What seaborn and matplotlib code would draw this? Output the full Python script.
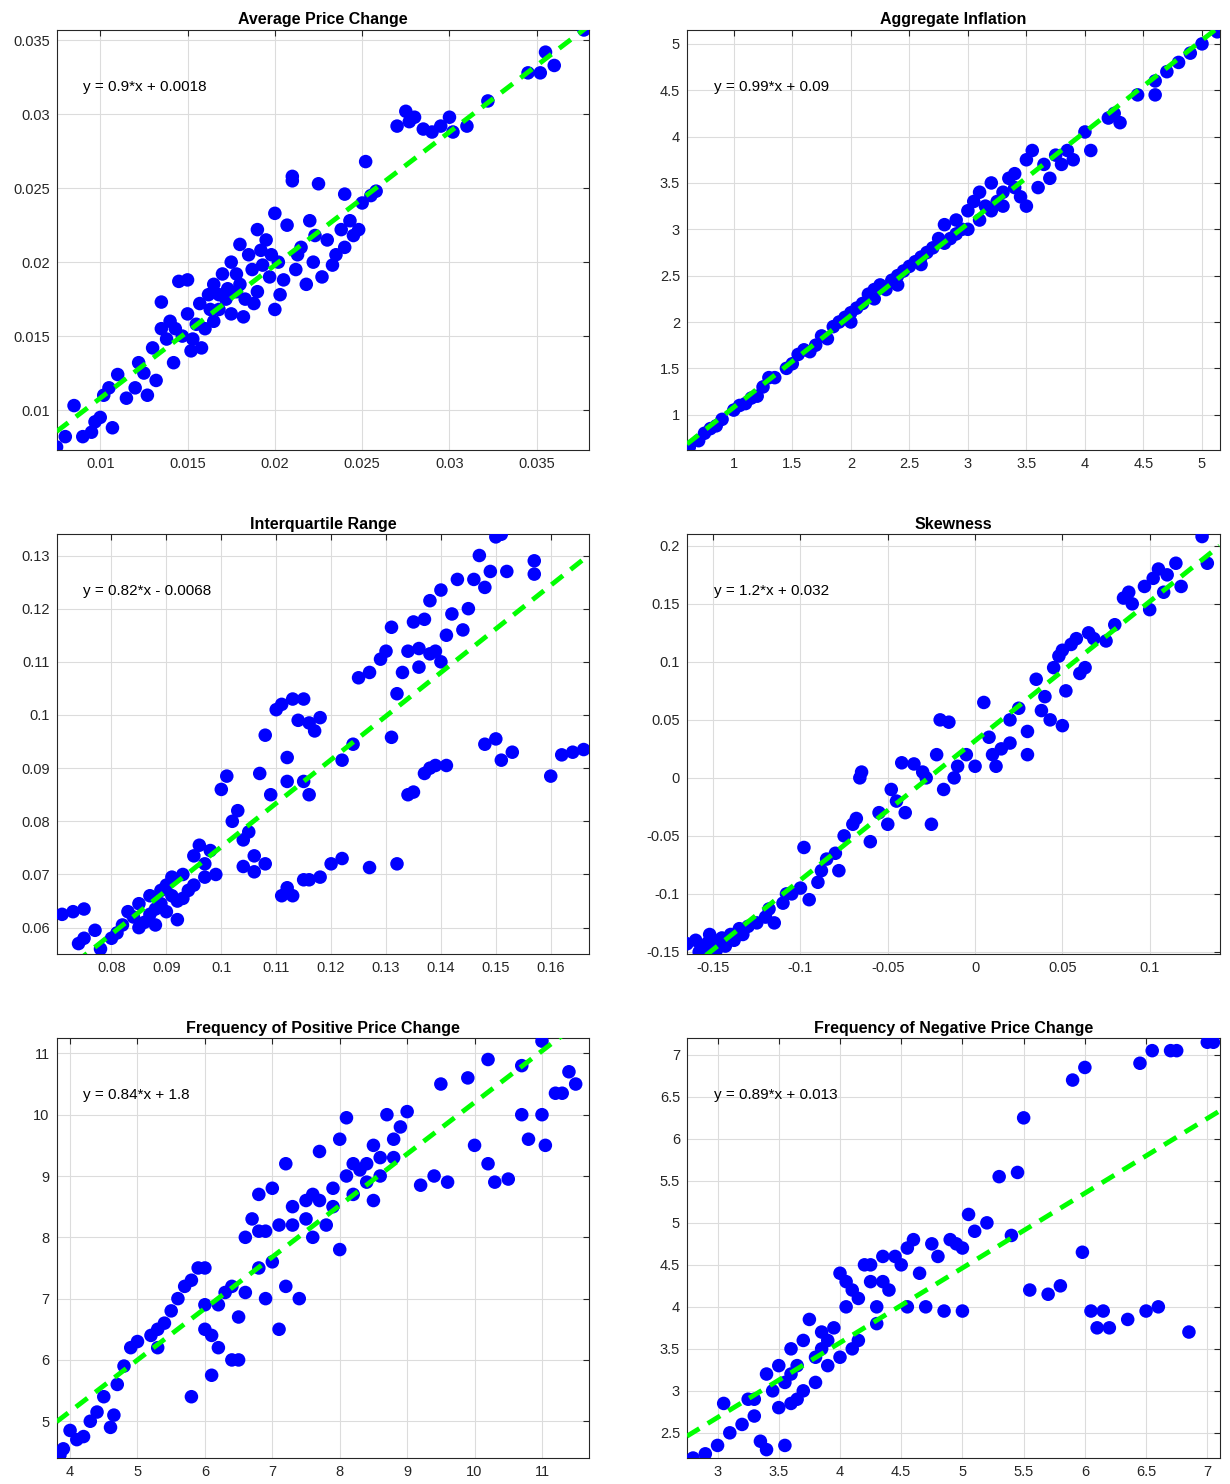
import matplotlib
matplotlib.use("Agg")
import matplotlib.pyplot as plt
import seaborn as sns
import numpy as np
import pandas as pd

sns.set_style("whitegrid")
plt.rcParams['font.family'] = ['Liberation Sans', 'DejaVu Sans']

titles = ["Average Price Change", "Aggregate Inflation", "Interquartile Range",
          "Skewness", "Frequency of Positive Price Change", "Frequency of Negative Price Change"]
slopes = [0.9, 0.99, 0.82, 1.2, 0.84, 0.89]
intercepts = [0.0018, 0.09, -0.0068, 0.032, 1.8, 0.013]
eq_labels = ["y = 0.9*x + 0.0018", "y = 0.99*x + 0.09", "y = 0.82*x - 0.0068",
             "y = 1.2*x + 0.032", "y = 0.84*x + 1.8", "y = 0.89*x + 0.013"]

p1 = [(0.0075,0.0075),(0.008,0.0082),(0.0085,0.0103),(0.009,0.0082),(0.0095,0.0085),(0.0097,0.0092),(0.01,0.0095),(0.0102,0.011),(0.0105,0.0115),(0.0107,0.0088),(0.011,0.0124),(0.0115,0.0108),(0.012,0.0115),(0.0122,0.0132),(0.0125,0.0125),(0.0127,0.011),(0.013,0.0142),(0.0132,0.012),(0.0135,0.0155),(0.0135,0.0173),(0.0138,0.0148),(0.014,0.016),(0.0142,0.0132),(0.0145,0.0187),(0.0147,0.015),(0.015,0.0188),(0.015,0.0165),(0.0152,0.014),(0.0155,0.0158),(0.0157,0.0172),(0.016,0.0155),(0.0162,0.0178),(0.0165,0.0185),(0.0165,0.016),(0.0168,0.0168),(0.017,0.0192),(0.0172,0.0175),(0.0175,0.02),(0.0175,0.0165),(0.0178,0.018),(0.018,0.0212),(0.018,0.0185),(0.0182,0.0163),(0.0185,0.0205),(0.0187,0.0195),(0.019,0.0222),(0.019,0.018),(0.0192,0.0208),(0.0195,0.0215),(0.0197,0.019),(0.02,0.0168),(0.02,0.0233),(0.0202,0.02),(0.0205,0.0188),(0.0207,0.0225),(0.021,0.0255),(0.021,0.0258),(0.0212,0.0195),(0.0215,0.021),(0.0218,0.0185),(0.022,0.0228),(0.0222,0.02),(0.0225,0.0253),(0.0227,0.019),(0.023,0.0215),(0.0235,0.0205),(0.0238,0.0222),(0.024,0.0246),(0.024,0.021),(0.0245,0.0218),(0.0248,0.0222),(0.025,0.024),(0.0252,0.0268),(0.0255,0.0245),(0.0258,0.0248),(0.027,0.0292),(0.0275,0.0302),(0.0277,0.0295),(0.028,0.0298),(0.0285,0.029),(0.029,0.0288),(0.0295,0.0292),(0.03,0.0298),(0.0302,0.0288),(0.031,0.0292),(0.0322,0.0309),(0.0345,0.0328),(0.0352,0.0328),(0.0355,0.0342),(0.036,0.0333),(0.0377,0.0357),
      (0.0143,0.0155),(0.0153,0.0148),(0.0163,0.0168),(0.0173,0.0182),(0.0183,0.0175),(0.0193,0.0198),(0.0203,0.0178),(0.0213,0.0205),(0.0223,0.0218),(0.0233,0.0198),(0.0243,0.0228),(0.0168,0.0178),(0.0178,0.0192),(0.0158,0.0142),(0.0188,0.0172),(0.0198,0.0205)]
p2 = [(0.62,0.65),(0.7,0.72),(0.75,0.8),(0.8,0.85),(0.85,0.88),(0.9,0.95),(1.0,1.05),(1.05,1.1),(1.1,1.12),(1.2,1.2),(1.25,1.3),(1.3,1.4),(1.45,1.5),(1.5,1.55),(1.55,1.65),(1.6,1.7),(1.7,1.75),(1.75,1.85),(1.8,1.82),(1.85,1.95),(1.9,2.0),(1.95,2.05),(2.0,2.1),(2.05,2.15),(2.1,2.2),(2.15,2.3),(2.2,2.25),(2.25,2.4),(2.3,2.35),(2.35,2.45),(2.4,2.5),(2.45,2.55),(2.5,2.6),(2.55,2.65),(2.6,2.7),(2.65,2.75),(2.7,2.8),(2.75,2.9),(2.8,3.05),(2.85,2.9),(2.9,3.1),(2.95,3.0),(3.0,3.2),(3.05,3.3),(3.1,3.4),(3.1,3.1),(3.15,3.25),(3.2,3.5),(3.25,3.3),(3.3,3.4),(3.35,3.55),(3.4,3.6),(3.45,3.35),(3.5,3.75),(3.5,3.25),(3.55,3.85),(3.6,3.45),(3.65,3.7),(3.7,3.55),(3.75,3.8),(3.8,3.7),(3.85,3.85),(3.9,3.75),(4.0,4.05),(4.05,3.85),(4.2,4.2),(4.25,4.25),(4.3,4.15),(4.45,4.45),(4.6,4.45),(4.6,4.6),(4.7,4.7),(4.8,4.8),(4.9,4.9),(5.0,5.0),(5.13,5.13),
      (1.15,1.18),(1.35,1.4),(1.65,1.68),(2.0,2.0),(2.2,2.35),(2.4,2.4),(2.6,2.62),(2.8,2.85),(3.0,3.0),(3.2,3.2),(3.4,3.45),(2.9,2.95),(3.3,3.25)]
p3 = [(0.071,0.0625),(0.073,0.063),(0.075,0.0635),(0.074,0.057),(0.075,0.058),(0.077,0.0595),(0.078,0.056),(0.08,0.058),(0.081,0.059),(0.082,0.0605),(0.083,0.063),(0.084,0.062),(0.085,0.0645),(0.086,0.061),(0.087,0.066),(0.088,0.0635),(0.089,0.067),(0.09,0.068),(0.09,0.063),(0.091,0.0695),(0.092,0.065),(0.093,0.07),(0.094,0.067),(0.095,0.0735),(0.096,0.0755),(0.097,0.072),(0.098,0.0745),(0.099,0.07),(0.1,0.086),(0.101,0.0885),(0.102,0.08),(0.103,0.082),(0.104,0.0765),(0.105,0.078),(0.106,0.0735),(0.107,0.089),(0.108,0.0962),(0.109,0.085),(0.11,0.101),(0.111,0.102),(0.112,0.092),(0.113,0.103),(0.114,0.099),(0.115,0.103),(0.116,0.0985),(0.117,0.097),(0.118,0.0995),(0.115,0.0875),(0.116,0.085),(0.112,0.0875),(0.122,0.0915),(0.124,0.0945),(0.125,0.107),(0.127,0.108),(0.129,0.1105),(0.13,0.112),(0.131,0.1165),(0.132,0.104),(0.133,0.108),(0.134,0.112),(0.135,0.1175),(0.136,0.109),(0.137,0.118),(0.138,0.1215),(0.139,0.112),(0.14,0.1235),(0.141,0.115),(0.142,0.119),(0.143,0.1255),(0.144,0.116),(0.145,0.12),(0.146,0.1255),(0.147,0.13),(0.148,0.124),(0.149,0.127),(0.15,0.1335),(0.151,0.134),(0.152,0.127),(0.157,0.129),(0.157,0.1265),
      (0.104,0.0715),(0.106,0.0705),(0.108,0.072),(0.111,0.066),(0.112,0.0675),(0.113,0.066),(0.115,0.069),(0.116,0.069),(0.118,0.0695),(0.12,0.072),(0.122,0.073),(0.127,0.0713),(0.132,0.072),
      (0.131,0.0958),(0.134,0.085),(0.135,0.0855),(0.137,0.089),(0.138,0.09),(0.139,0.0905),(0.141,0.0905),(0.148,0.0945),(0.15,0.0955),(0.151,0.0915),(0.153,0.093),(0.16,0.0885),(0.162,0.0925),(0.164,0.093),(0.166,0.0935),
      (0.085,0.06),(0.087,0.0625),(0.089,0.0645),(0.091,0.066),(0.093,0.0655),(0.095,0.068),(0.097,0.0695),(0.092,0.0615),(0.088,0.0605),(0.138,0.1115),(0.14,0.11),(0.136,0.1125)]
p4 = [(-0.165,-0.143),(-0.16,-0.14),(-0.155,-0.145),(-0.152,-0.135),(-0.15,-0.14),(-0.148,-0.148),(-0.145,-0.138),(-0.14,-0.135),(-0.135,-0.13),(-0.13,-0.128),(-0.125,-0.125),(-0.12,-0.12),(-0.115,-0.125),(-0.11,-0.108),(-0.105,-0.1),(-0.1,-0.095),(-0.098,-0.06),(-0.095,-0.105),(-0.09,-0.09),(-0.085,-0.07),(-0.08,-0.065),(-0.078,-0.08),(-0.075,-0.05),(-0.07,-0.04),(-0.068,-0.035),(-0.066,0.0),(-0.065,0.005),(-0.06,-0.055),(-0.055,-0.03),(-0.05,-0.04),(-0.045,-0.02),(-0.042,0.013),(-0.04,-0.03),(-0.035,0.012),(-0.03,0.005),(-0.028,0.0),(-0.025,-0.04),(-0.022,0.02),(-0.02,0.05),(-0.015,0.048),(-0.012,0.0),(-0.01,0.01),(-0.005,0.02),(0.0,0.01),(0.005,0.065),(0.008,0.035),(0.01,0.02),(0.015,0.025),(0.02,0.05),(0.02,0.03),(0.025,0.06),(0.03,0.04),(0.035,0.085),(0.038,0.058),(0.04,0.07),(0.045,0.095),(0.048,0.105),(0.05,0.11),(0.052,0.075),(0.055,0.115),(0.058,0.12),(0.06,0.09),(0.065,0.125),(0.063,0.095),(0.068,0.12),(0.075,0.118),(0.08,0.132),(0.085,0.155),(0.088,0.16),(0.09,0.15),(0.097,0.165),(0.1,0.145),(0.102,0.172),(0.105,0.18),(0.108,0.16),(0.11,0.175),(0.115,0.185),(0.118,0.165),(0.13,0.208),(0.133,0.185),
      (-0.158,-0.15),(-0.153,-0.142),(-0.143,-0.145),(-0.138,-0.14),(-0.133,-0.135),(-0.118,-0.113),(-0.108,-0.1),(-0.088,-0.08),(-0.048,-0.01),(-0.018,-0.01),(0.012,0.01),(0.03,0.02),(0.043,0.05),(0.05,0.045)]
p5 = [(3.85,4.45),(3.9,4.55),(4.0,4.85),(4.1,4.7),(4.2,4.75),(4.3,5.0),(4.4,5.15),(4.5,5.4),(4.6,4.9),(4.65,5.1),(4.7,5.6),(4.8,5.9),(4.9,6.2),(5.0,6.3),(5.2,6.4),(5.3,6.5),(5.4,6.6),(5.5,6.8),(5.6,7.0),(5.7,7.2),(5.8,7.3),(5.9,7.5),(6.0,7.5),(6.0,6.9),(6.1,6.4),(6.1,5.75),(6.2,6.2),(6.3,7.1),(6.4,6.0),(6.5,6.7),(6.6,8.0),(6.7,8.3),(6.8,8.7),(6.9,7.0),(7.0,8.8),(7.0,7.6),(7.1,6.5),(7.2,7.2),(7.2,9.2),(7.3,8.2),(7.4,7.0),(7.5,8.6),(7.6,8.7),(7.7,9.4),(7.8,8.2),(7.9,8.5),(8.0,7.8),(8.0,9.6),(8.1,9.0),(8.1,9.95),(8.2,8.7),(8.3,9.1),(8.4,9.2),(8.5,9.5),(8.5,8.6),(8.6,9.3),(8.7,10.0),(8.8,9.6),(8.9,9.8),(9.0,10.05),(9.2,8.85),(9.4,9.0),(9.5,10.5),(9.6,8.9),(9.9,10.6),(10.0,9.5),(10.2,9.2),(10.3,8.9),(10.5,8.95),(10.7,10.8),(10.7,10.0),(10.8,9.6),(11.0,11.2),(11.05,9.5),(11.0,10.0),(11.2,10.35),(11.3,10.35),(11.5,10.5),(11.4,10.7),(10.2,10.9),(5.8,5.4),(6.8,8.1),(7.6,8.0),(6.0,6.5),(5.3,6.2),(6.5,6.0),
      (6.9,8.1),(7.1,8.2),(7.3,8.5),(7.5,8.3),(7.7,8.6),(7.9,8.8),(8.2,9.2),(8.4,8.9),(8.6,9.0),(8.8,9.3),(6.2,6.9),(6.4,7.2),(6.6,7.1),(6.8,7.5)]
p6 = [(2.8,2.2),(2.9,2.25),(3.0,2.35),(3.05,2.85),(3.1,2.5),(3.2,2.6),(3.25,2.9),(3.3,2.7),(3.4,3.2),(3.35,2.4),(3.4,2.3),(3.5,3.3),(3.5,2.8),(3.55,2.35),(3.6,3.5),(3.65,2.9),(3.7,3.6),(3.75,3.85),(3.8,3.1),(3.85,3.7),(3.9,3.3),(3.95,3.75),(4.0,4.4),(4.0,3.4),(4.05,4.0),(4.1,4.2),(4.15,3.6),(4.2,4.5),(4.25,4.3),(4.3,3.8),(4.35,4.6),(4.4,4.2),(4.5,4.5),(4.55,4.0),(4.6,4.8),(4.65,4.4),(4.7,4.0),(4.75,4.75),(4.8,4.6),(4.85,3.95),(4.9,4.8),(5.0,4.7),(5.05,5.1),(5.1,4.9),(5.2,5.0),(5.3,5.55),(5.4,4.85),(5.45,5.6),(5.5,6.25),(5.55,4.2),(5.7,4.15),(5.8,4.25),(5.9,6.7),(6.0,6.85),(5.98,4.65),(6.05,3.95),(6.1,3.75),(6.15,3.95),(6.2,3.75),(6.35,3.85),(6.45,6.9),(6.5,3.95),(6.55,7.05),(6.6,4.0),(6.7,7.05),(6.75,7.05),(6.85,3.7),(7.0,7.15),(7.05,7.15),(3.6,3.2),(3.8,3.4),(4.1,3.5),(4.3,4.0),(5.0,3.95),(4.95,4.75),
      (3.45,3.0),(3.55,3.1),(3.65,3.3),(3.7,3.0),(3.85,3.5),(3.9,3.6),(4.05,4.3),(4.15,4.1),(4.25,4.5),(4.35,4.3),(4.45,4.6),(4.55,4.7),(3.3,2.9),(3.6,2.85)]
datasets = [p1, p2, p3, p4, p5, p6]

xlims = [(0.0075, 0.038), (0.6, 5.15), (0.07, 0.167), (-0.165, 0.14), (3.8, 11.7), (2.75, 7.1)]
ylims = [(0.0073, 0.0357), (0.62, 5.15), (0.055, 0.134), (-0.152, 0.21), (4.4, 11.25), (2.2, 7.2)]
xticks = [[0.01,0.015,0.02,0.025,0.03,0.035],[1,1.5,2,2.5,3,3.5,4,4.5,5],
          [0.08,0.09,0.1,0.11,0.12,0.13,0.14,0.15,0.16],[-0.15,-0.1,-0.05,0,0.05,0.1],
          [4,5,6,7,8,9,10,11],[3,3.5,4,4.5,5,5.5,6,6.5,7]]
yticks = [[0.01,0.015,0.02,0.025,0.03,0.035],[1,1.5,2,2.5,3,3.5,4,4.5,5],
          [0.06,0.07,0.08,0.09,0.1,0.11,0.12,0.13],[-0.15,-0.1,-0.05,0,0.05,0.1,0.15,0.2],
          [5,6,7,8,9,10,11],[2.5,3,3.5,4,4.5,5,5.5,6,6.5,7]]

fig = plt.figure(figsize=(12.3, 14.84), dpi=100)
lefts = [0.046, 0.5585]
bottoms = [0.6968, 0.357, 0.0175]
w, h = 0.433, 0.283

for i in range(6):
    r, c = divmod(i, 2)
    ax = fig.add_axes([lefts[c], bottoms[r], w, h])
    df = pd.DataFrame(datasets[i], columns=["x", "y"])
    sns.scatterplot(data=df, x="x", y="y", ax=ax, color="blue", s=95, edgecolor="none", zorder=3)
    xl = np.array(xlims[i])
    ax.plot(xl, slopes[i]*xl + intercepts[i], color="#00ff00", ls=(0, (3, 2)), lw=3.5, zorder=4)
    ax.set_xlim(*xlims[i]); ax.set_ylim(*ylims[i])
    ax.set_xticks(xticks[i]); ax.set_yticks(yticks[i])
    ax.set_xticklabels(["%g" % v for v in xticks[i]], fontsize=10.5)
    ax.set_yticklabels(["%g" % v for v in yticks[i]], fontsize=10.5)
    ax.set_xlabel(""); ax.set_ylabel("")
    ax.set_title(titles[i], fontsize=11.5, fontweight="bold", pad=4, color="black")
    ax.text(0.05, 0.855, eq_labels[i], transform=ax.transAxes, fontsize=11, color="black")
    ax.grid(True, color="#dcdcdc", lw=0.8)
    for sp in ax.spines.values():
        sp.set_color("#262626"); sp.set_linewidth(0.8)
    ax.tick_params(direction="in", length=4, pad=5, top=True, right=True, colors="#262626")

fig.savefig("out.png", dpi=100, facecolor="white")
